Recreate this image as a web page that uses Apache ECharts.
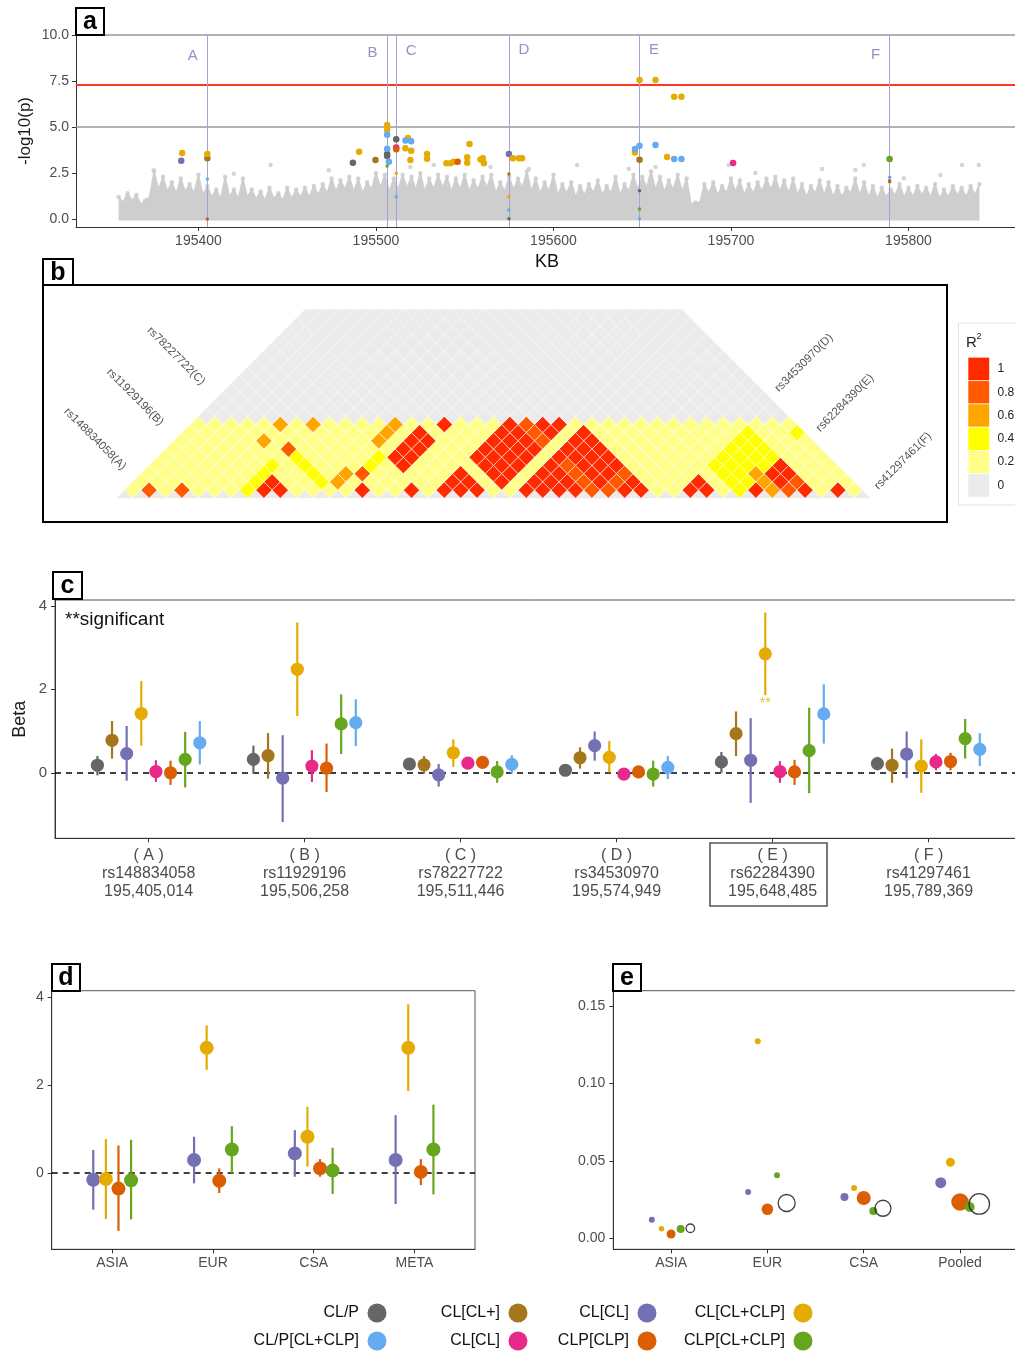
<!DOCTYPE html>
<html>
<head>
<meta charset="utf-8">
<script src="https://cdn.jsdelivr.net/npm/echarts@6/dist/echarts.min.js"></script>
<style>
html,body{margin:0;padding:0;background:#fff}
#chart{width:1015px;height:1355px}
</style>
</head>
<body>
<div id="chart"></div>
<script>
const FONT = '"Liberation Sans", Arial, Helvetica, sans-serif';
const TICK = '#4d4d4d';

// ---------- phenotype / model groups ----------
const groupNames = ['CL/P','CL[CL+]','CL[CL]','CL[CL+CLP]','CL[CL]','CLP[CLP]','CLP[CL+CLP]','CL/P[CL+CLP]'];
const groupColours = ['#666666','#a6761d','#7570b3','#e6ab02','#e7298a','#d95f02','#66a61e','#64abf0'];

// ---------- a: regional association ----------
const kbTicks = [195400,195500,195600,195700,195800];
const logpTicks = [0,2.5,5,7.5,10];
const suggestiveLine = 5;
const genomeWideLine = 7.3;
const logpCeiling = 10;

// spikes of the background SNP cloud (kb, -log10 p)
const cloudKb = [195355,195360,195365,195370,195375,195380,195385,195390,195395,195400,
  195405,195410,195415,195420,195425,195430,195435,195440,195445,195450,
  195455,195460,195465,195470,195475,195480,195485,195490,195495,195500,
  195505,195510,195515,195520,195525,195530,195535,195540,195545,195550,
  195555,195560,195565,195570,195575,195580,195585,195590,195595,195600,
  195605,195610,195615,195620,195625,195630,195635,195640,195645,195650,
  195655,195660,195665,195670,195675,195680,195685,195690,195695,195700,
  195705,195710,195715,195720,195725,195730,195735,195740,195745,195750,
  195755,195760,195765,195770,195775,195780,195785,195790,195795,195800,
  195805,195810,195815,195820,195825,195830,195835,195840];
const cloudTop = [1.2,1.4,1.3,1.0,2.6,2.3,2.0,2.2,1.9,2.4,
  1.8,1.6,2.3,1.6,2.2,1.6,1.5,1.7,1.4,1.7,
  1.6,1.7,1.8,1.9,2.2,2.1,2.3,2.2,2.0,2.5,
  2.4,2.2,2.4,2.3,2.5,2.2,2.4,2.3,2.2,2.4,
  2.1,2.3,2.4,2.0,2.3,2.2,2.6,2.2,2.0,2.4,
  1.9,2.0,1.8,1.9,2.1,1.8,2.3,1.9,2.4,2.3,
  2.6,2.3,2.1,2.4,2.2,0.9,1.9,2.0,1.8,2.2,
  2.1,1.9,2.0,2.2,2.3,2.1,2.2,1.9,1.8,2.1,
  2.0,1.8,1.7,2.2,2.0,1.8,1.7,1.6,1.9,1.7,
  1.8,1.7,1.9,1.6,1.8,1.7,1.8,1.9];
// dense level of the cloud between neighbouring spikes (midpoints of cloudKb)
const cloudValley = [0.9,1.0,0.8,1.2,1.6,1.5,1.4,1.5,1.4,1.3,
  1.2,1.1,1.2,1.1,1.2,1.1,1.0,1.1,1.0,1.1,
  1.2,1.2,1.3,1.4,1.5,1.6,1.5,1.4,1.6,1.7,
  1.5,1.6,1.7,1.6,1.5,1.6,1.7,1.5,1.6,1.5,
  1.6,1.7,1.4,1.5,1.6,1.7,1.5,1.4,1.5,1.3,
  1.4,1.2,1.3,1.4,1.3,1.4,1.3,1.5,1.6,1.7,
  1.6,1.5,1.6,1.5,0.8,0.9,1.4,1.3,1.4,1.5,
  1.3,1.4,1.5,1.6,1.5,1.4,1.3,1.2,1.4,1.3,
  1.2,1.2,1.4,1.3,1.2,1.1,1.2,1.3,1.2,1.2,
  1.3,1.2,1.1,1.2,1.3,1.2,1.3];
// isolated background SNPs above the cloud
const strayKb = [195374.8,195419.9,195440.6,195473.4,195519.4,195532.6,195564.5,195586.1,195613.3,195642.4,
  195657.5,195698.8,195713.8,195751.4,195770.1,195774.8,195797.4,195818.0,195830.2,195839.6];
const strayLogp = [2.65,2.46,2.93,2.65,2.83,2.93,2.83,2.72,2.93,2.72,
  2.83,2.93,2.50,2.72,2.66,2.93,2.21,2.39,2.93,2.93];

// highlighted SNPs per group: [kb, -log10 p, 1 = p below 1e-3]
const hitsCLP = [[195487.0,3.06,1],[195506.3,3.53,1],[195506.3,3.42,1],[195511.4,4.33,1],[195648.5,1.54,0],[195574.9,0.02,0]];
const hitsCLplus = [[195405.0,3.30,1],[195499.7,3.21,1],[195648.5,3.22,1],[195574.9,2.45,0],[195789.4,2.02,0]];
const hitsCLCL = [[195390.3,3.17,1],[195574.9,3.53,1]];
const hitsCLmix = [[195390.8,3.59,1],[195405.0,3.53,1],[195490.5,3.66,1],[195506.3,5.11,1],[195506.3,4.84,1],
  [195511.4,2.48,0],[195518.0,4.40,1],[195516.6,3.84,1],[195519.8,3.71,1],[195519.4,3.21,1],
  [195528.8,3.53,1],[195528.8,3.28,1],[195539.7,3.03,1],[195542.0,3.03,1],[195543.8,3.11,1],
  [195551.4,3.35,1],[195551.4,3.06,1],[195552.7,4.08,1],[195558.9,3.24,1],[195560.2,3.30,1],
  [195560.8,3.03,1],[195577.1,3.30,1],[195580.5,3.30,1],[195582.3,3.30,1],[195574.9,1.21,0],
  [195648.5,7.55,1],[195657.5,7.55,1],[195645.9,3.62,1],[195664.0,3.37,1],[195668.0,6.65,1],[195672.1,6.65,1]];
const hitsCLCL2 = [[195511.4,3.88,1],[195701.2,3.04,1]];
const hitsCLPCLP = [[195511.4,3.79,1],[195546.0,3.11,1],[195405.0,0.0,0],[195789.4,2.08,0]];
const hitsCLPmix = [[195506.3,2.88,0],[195789.4,3.26,1],[195648.5,0.54,0]];
const hitsCLPall = [[195405.0,2.17,0],[195506.3,4.58,1],[195506.3,3.82,1],[195507.3,3.11,1],[195511.4,1.21,0],
  [195516.6,4.26,1],[195519.8,4.22,1],[195574.9,0.49,0],[195648.5,3.98,1],[195645.9,3.80,1],
  [195657.5,4.02,1],[195668.0,3.26,1],[195672.1,3.26,1],[195789.4,2.27,0],[195648.5,0.02,0]];
const hitsByGroup = [hitsCLP,hitsCLplus,hitsCLCL,hitsCLmix,hitsCLCL2,hitsCLPCLP,hitsCLPmix,hitsCLPall];

// lead SNPs
const snpCats = ['A','B','C','D','E','F'];
const snpIds = ['rs148834058','rs11929196','rs78227722','rs34530970','rs62284390','rs41297461'];
const snpPosLabels = ['195,405,014','195,506,258','195,511,446','195,574,949','195,648,485','195,789,369'];
const snpKb = [195405.014,195506.258,195511.446,195574.949,195648.485,195789.369];
const snpTagLogp = [8.86,9.03,9.13,9.18,9.18,8.91];
const snpTagSide = ['left','left','right','right','right','left'];

// ---------- b: pairwise LD (r^2 bin code per cell, one string per diagonal) ----------
const ldBins = [0,0.2,0.4,0.6,0.8,1];
const ldColours = ['#ebebeb','#ffff88','#ffff00','#ffa500','#ff5a00','#ff2a00'];
const ldRows = [
  '14141 11255 11115 11515 55115 55544 55115 51253 45151',
  '11111 11251 12311 11115 51515 55454 51115 12235 4111',
  '11111 11211 21341 11115 15515 54554 11111 22355 111',
  '11111 11212 11121 51111 55515 45551 11112 22251 11',
  '11111 11121 11125 51115 55515 55511 11112 22211 1',
  '11111 11411 11115 51115 55515 55111 11112 22111',
  '11111 31111 11315 51115 55415 51111 11112 2111',
  '11111 11111 11315 11115 54515 11111 11112 112',
  '11111 31311 11311 51115 45511 11111 11111 11',
  '000000 000000 000000 000000 000000 000000',
  '000000 000000 000000 000000 000000 00000',
  '000000 000000 000000 000000 000000 0000',
  '000000 000000 000000 000000 000000 000',
  '000000 000000 000000 000000 000000 00',
  '000000 000000 000000 000000 000000 0',
  '000000 000000 000000 000000 000000',
  '000000 000000 000000 000000 00000',
  '000000 000000 000000 000000 0000',
  '000000 000000 000000 000000 000',
  '000000 000000 000000 000000 00',
  '000000 000000 000000 000000 0',
  '000000 000000 000000 000000'
].map(r => r.replace(/ /g,''));
const ldLegendLabels = ['1','0.8','0.6','0.4','0.2','0'];

// ---------- c: effect sizes at lead SNPs (rows = groups, cols = A..F) ----------
const betaC = [
  [0.18,0.32,0.21,0.06,0.26,0.22],
  [0.78,0.41,0.19,0.36,0.94,0.18],
  [0.46,-0.13,-0.05,0.65,0.30,0.45],
  [1.42,2.48,0.48,0.37,2.85,0.16],
  [0.03,0.16,0.23,-0.03,0.03,0.26],
  [0.00,0.11,0.25,0.02,0.02,0.27],
  [0.32,1.17,0.02,-0.03,0.53,0.82],
  [0.72,1.20,0.20,0.13,1.41,0.56]];
const lowC = [
  [-0.06,-0.02,0.15,0.02,0.00,0.06],
  [0.34,-0.14,-0.02,0.10,0.40,-0.24],
  [-0.19,-1.18,-0.33,0.29,-0.72,-0.13],
  [0.65,1.36,0.14,0.01,1.86,-0.48],
  [-0.22,-0.22,0.17,-0.08,-0.24,0.06],
  [-0.29,-0.46,0.19,-0.13,-0.29,0.06],
  [-0.35,0.45,-0.24,-0.33,-0.49,0.34],
  [0.20,0.64,-0.02,-0.15,0.70,0.16]];
const highC = [
  [0.40,0.65,0.27,0.10,0.50,0.38],
  [1.24,0.95,0.40,0.61,1.47,0.58],
  [1.12,0.90,0.21,0.99,1.31,0.99],
  [2.20,3.60,0.80,0.76,3.84,0.80],
  [0.30,0.54,0.29,0.02,0.28,0.45],
  [0.29,0.70,0.31,0.14,0.31,0.48],
  [0.98,1.88,0.28,0.29,1.56,1.29],
  [1.24,1.76,0.42,0.40,2.12,0.95]];
const sigGroup = [3];
const sigSnp = [4];
const betaTicks = [0,2,4];

// ---------- d: lead SNP E by population ----------
const popCats = ['ASIA','EUR','CSA','META'];
const popGroups = [2,3,5,6];
const betaD = [
  [-0.15,0.30,0.45,0.30],
  [-0.13,2.85,0.83,2.85],
  [-0.35,-0.17,0.11,0.03],
  [-0.16,0.54,0.06,0.54]];
const lowD = [
  [-0.83,-0.23,-0.08,-0.70],
  [-1.04,2.35,0.15,1.87],
  [-1.31,-0.45,-0.08,-0.27],
  [-1.05,0.00,-0.47,-0.48]];
const highD = [
  [0.53,0.83,0.98,1.32],
  [0.78,3.36,1.51,3.84],
  [0.63,0.11,0.32,0.32],
  [0.76,1.07,0.58,1.56]];

// ---------- e: per-population estimates (last row = all subtypes, open circle) ----------
const popCatsE = ['ASIA','EUR','CSA','Pooled'];
const valueE = [
  [0.0120,0.0299,0.0267,0.0359],
  [0.0062,0.1272,0.0325,0.0491],
  [0.0028,0.0187,0.0260,0.0235],
  [0.0060,0.0407,0.0176,0.0202],
  [0.0065,0.0228,0.0194,0.0222]];
const weightE = [
  [6,6,8,11],
  [5.5,6,6,9],
  [9,11.5,14,17.5],
  [8,6,8,10],
  [8.5,17,16,20.5]];
const eTicks = [0,0.05,0.10,0.15];

// ---------- helpers ----------
function axisBase(gridIndex, min, max, ticks, fmt, fontSize, margin) {
  return {
    type:'value', gridIndex, min, max,
    axisLine:{show:true, onZero:false, lineStyle:{color:'#333', width:1}},
    axisTick:{show:true, customValues:ticks, length:4, lineStyle:{color:'#333', width:1}},
    axisLabel:{customValues:ticks, formatter:fmt, color:TICK, fontSize, fontFamily:FONT, margin},
    splitLine:{show:false}, nameMoveOverlap:false
  };
}
function forestItem(r, lw) {
  return function (params, api) {
    const x = api.value(0), y = api.value(1), lo = api.value(2), hi = api.value(3);
    const p = api.coord([x, y]), a = api.coord([x, lo]), b = api.coord([x, hi]);
    const col = api.visual('color');
    return {type:'group', children:[
      {type:'line', shape:{x1:a[0], y1:a[1], x2:b[0], y2:b[1]}, style:{stroke:col, lineWidth:lw}},
      {type:'circle', shape:{cx:p[0], cy:p[1], r}, style:{fill:col}}
    ]};
  };
}

const series = [];

// a: background cloud, spikes alternating with the dense level between them
const cloudOutline = [];
cloudKb.forEach((k, i) => {
  cloudOutline.push([k, cloudTop[i]]);
  if (i < cloudValley.length) cloudOutline.push([(k + cloudKb[i + 1]) / 2, cloudValley[i]]);
});
series.push({
  type:'line', xAxisIndex:0, yAxisIndex:0, silent:true, z:1,
  data: cloudOutline,
  symbol:'none', lineStyle:{color:'#cecece', width:1.5},
  areaStyle:{color:'#cecece', opacity:1, origin:-0.08}
});
series.push({
  type:'scatter', xAxisIndex:0, yAxisIndex:0, silent:true, z:1,
  data: cloudKb.map((k,i)=>[k, cloudTop[i]]).concat(strayKb.map((k,i)=>[k, strayLogp[i]])),
  symbolSize:4.5, itemStyle:{color:'#cacaca'}
});
// a: threshold lines, lead-SNP markers and tags
series.push({
  type:'scatter', xAxisIndex:0, yAxisIndex:0, silent:true, z:2,
  data: snpKb.map((k,i)=>({value:[k, snpTagLogp[i]], label:{position:snpTagSide[i]}})),
  symbolSize:1, itemStyle:{color:'rgba(0,0,0,0)'},
  label:{show:true, distance:9, formatter:p=>snpCats[p.dataIndex], color:'#7b76b8', fontSize:15, fontFamily:FONT},
  markLine:{silent:true, symbol:'none', label:{show:false}, animation:false,
    data:[
      {yAxis:logpCeiling, lineStyle:{color:'#999', width:1.6, type:'solid'}},
      {yAxis:suggestiveLine, lineStyle:{color:'#999', width:1.6, type:'solid'}},
      {yAxis:genomeWideLine, lineStyle:{color:'#ff3426', width:2, type:'solid'}}
    ].concat(snpKb.map(k=>({xAxis:k, lineStyle:{color:'#a3a3d4', width:1, type:'solid'}})))
  }
});
hitsByGroup.forEach((pts, gi) => {
  series.push({
    type:'scatter', name:groupNames[gi], xAxisIndex:0, yAxisIndex:0, z:5,
    data:pts, symbolSize:v=>v[2] ? 6.5 : 3.5,
    itemStyle:{color:groupColours[gi], opacity:1}
  });
});

// b: LD triangle
const ldCells = [];
ldRows.forEach((row, k) => {
  for (let m = 0; m < row.length; m++) ldCells.push([2*m + 1 + k, k, +row[m]]);
});
const nBase = ldRows[0].length, nDiag = ldRows.length;
series.push({
  type:'custom', xAxisIndex:1, yAxisIndex:1, silent:true, z:1,
  data:[[0]],
  renderItem:(params, api) => {
    const pts = [[-1,-1],[2*nBase+1,-1],[2*nBase-nDiag,nDiag],[nDiag,nDiag]].map(q=>api.coord(q));
    return {type:'polygon', shape:{points:pts}, style:{fill:ldColours[0]}};
  }
});
series.push({
  type:'custom', xAxisIndex:1, yAxisIndex:1, silent:true, z:2,
  data:ldCells,
  renderItem:(params, api) => {
    const u = api.value(0), v = api.value(1), c = api.value(2);
    const pts = [[u-1,v],[u,v+1],[u+1,v],[u,v-1]].map(q=>api.coord(q));
    return {type:'polygon', shape:{points:pts},
      style:{fill:ldColours[c], stroke: c ? 'rgba(255,255,255,0.8)' : 'rgba(255,255,255,0.55)', lineWidth:0.7}};
  }
});

// c: forest plot per lead SNP
const dodgeC = 0.75 / 8;
groupNames.forEach((g, gi) => {
  series.push({
    type:'custom', name:g, xAxisIndex:2, yAxisIndex:2, z:5,
    data: snpCats.map((c, ci) => [ci + 1 + (gi - 3.5)*dodgeC, betaC[gi][ci], lowC[gi][ci], highC[gi][ci]]),
    itemStyle:{color:groupColours[gi]},
    renderItem: forestItem(6.6, 2.2)
  });
});
series.push({
  type:'scatter', xAxisIndex:2, yAxisIndex:2, silent:true, z:8,
  data: sigGroup.map((g,i)=>[sigSnp[i] + 1 + (g - 3.5)*dodgeC, lowC[g][sigSnp[i]] - 0.2]),
  symbolSize:1, itemStyle:{color:'rgba(0,0,0,0)'},
  label:{show:true, position:'inside', formatter:'**', color:groupColours[3], fontSize:14, fontFamily:FONT},
  markLine:{silent:true, symbol:'none', label:{show:false}, animation:false,
    data:[{yAxis:0, lineStyle:{color:'#000', width:1.5, type:[6,5]}}]}
});

// d: forest plot by population
const dodgeD = 0.5 / 4;
popGroups.forEach((g, i) => {
  series.push({
    type:'custom', name:groupNames[g], xAxisIndex:3, yAxisIndex:3, z:5,
    data: popCats.map((c, ci) => [ci + 1 + (i - 1.5)*dodgeD, betaD[i][ci], lowD[i][ci], highD[i][ci]]),
    itemStyle:{color:groupColours[g]},
    renderItem: forestItem(7, 2.2)
  });
});
series.push({
  type:'scatter', xAxisIndex:3, yAxisIndex:3, silent:true, z:8, data:[],
  markLine:{silent:true, symbol:'none', label:{show:false}, animation:false,
    data:[{yAxis:0, lineStyle:{color:'#000', width:1.5, type:[6,5]}}]}
});

// e: bubble estimates
const dodgeE = 0.1;
const eColours = popGroups.map(g=>groupColours[g]).concat(['none']);
valueE.forEach((vals, i) => {
  const open = i === valueE.length - 1;
  series.push({
    type:'scatter', xAxisIndex:4, yAxisIndex:4, z:5 + i,
    data: vals.map((v, ci) => [ci + 1 + (i - 2)*dodgeE, v, weightE[i][ci]]),
    symbolSize: v => v[2],
    itemStyle: open ? {color:'rgba(255,255,255,0)', borderColor:'#111', borderWidth:1.3}
                    : {color:eColours[i], opacity:1}
  });
});

// ---------- axes ----------
const xAxes = [
  axisBase(0, 195331, 195870, kbTicks, v=>String(v), 14, 7),
  {type:'value', gridIndex:1, min:-2, max:92, show:false},
  axisBase(2, 0.4, 6.6, [1,2,3,4,5,6],
    v => '( ' + snpCats[v-1] + ' )\n' + snpIds[v-1] + '\n' + snpPosLabels[v-1], 16, 8),
  axisBase(3, 0.4, 4.6, [1,2,3,4], v => popCats[v-1], 14, 7),
  axisBase(4, 0.4, 4.6, [1,2,3,4], v => popCatsE[v-1], 14, 7)
];
xAxes[2].axisLabel.lineHeight = 18;

const yAxes = [
  Object.assign(axisBase(0, -0.435, 10, logpTicks, v=>v.toFixed(1), 14, 7), {
    name:'-log10(p)', nameLocation:'middle', nameGap:42, nameRotate:90,
    nameTextStyle:{fontSize:17, color:'#1a1a1a', fontFamily:FONT}
  }),
  {type:'value', gridIndex:1, min:-2, max:23, show:false},
  Object.assign(axisBase(2, -1.57, 4.14, betaTicks, v=>String(v), 15, 8), {
    name:'Beta', nameLocation:'middle', nameGap:26, nameRotate:90,
    nameTextStyle:{fontSize:18, color:'#1a1a1a', fontFamily:FONT}
  }),
  axisBase(3, -1.73, 4.15, betaTicks, v=>String(v), 14, 8),
  axisBase(4, -0.0071, 0.1599, eTicks, v=>v.toFixed(2), 14, 8)
];

// ---------- annotations ----------
const graphic = [];
function panelTag(letter, x, y, w, h) {
  graphic.push({type:'rect', z:100, shape:{x, y, width:w, height:h}, style:{fill:'#fff', stroke:'#000', lineWidth:2}});
  graphic.push({type:'text', z:101, style:{text:letter, x:x + w/2, y:y + h/2 + 1, align:'center', verticalAlign:'middle',
    font:'bold 25px ' + FONT, fill:'#000'}});
}
panelTag('a', 76, 8, 28, 27);
panelTag('c', 53, 572, 29, 27);
panelTag('d', 52, 964, 28, 27);
panelTag('e', 613, 964, 28, 27);
// b frame
graphic.push({type:'rect', z:90, shape:{x:43, y:285, width:904, height:237}, style:{fill:'none', stroke:'#000', lineWidth:2}});
panelTag('b', 43, 259, 30, 26);

graphic.push({type:'text', z:50, style:{text:'KB', x:547, y:262, align:'center', verticalAlign:'middle', font:'18px ' + FONT, fill:'#111'}});

// LD SNP labels
const ldTagText = snpIds.map((id,i)=>id + '(' + snpCats[i] + ')');
const ldTagXY = [[95,439],[135,397],[176,356],[804,363],[845,403],[903,461]];
ldTagText.forEach((t, i) => {
  graphic.push({type:'text', z:50, x:ldTagXY[i][0], y:ldTagXY[i][1], rotation: i < 3 ? -Math.PI/4 : Math.PI/4,
    style:{text:t, x:0, y:0, align:'center', verticalAlign:'middle', font:'11.5px ' + FONT, fill:'#555'}});
});
// LD colour key
graphic.push({type:'rect', z:50, shape:{x:958.5, y:323, width:80, height:182}, style:{fill:'#fff', stroke:'#e2e2e2', lineWidth:1}});
graphic.push({type:'text', z:51, style:{text:'R', x:966, y:343, verticalAlign:'middle', font:'15px ' + FONT, fill:'#222'}});
graphic.push({type:'text', z:51, style:{text:'2', x:976.5, y:337, verticalAlign:'middle', font:'9px ' + FONT, fill:'#222'}});
ldLegendLabels.forEach((lab, i) => {
  const col = ldColours[ldColours.length - 1 - i];
  graphic.push({type:'rect', z:51, shape:{x:968, y:357.3 + i*23.3, width:21.5, height:23.3}, style:{fill:col, stroke:'#fff', lineWidth:0.6}});
  graphic.push({type:'text', z:51, style:{text:lab, x:997.5, y:357.3 + i*23.3 + 11.6, verticalAlign:'middle', font:'12px ' + FONT, fill:'#222'}});
});

// c annotations
graphic.push({type:'text', z:50, style:{text:'**significant', x:65, y:620, verticalAlign:'middle', font:'19px ' + FONT, fill:'#111'}});
graphic.push({type:'rect', z:50, shape:{x:710, y:843, width:117, height:63}, style:{fill:'none', stroke:'#555', lineWidth:1.6}});

// bottom legend
const legendOrder = [[0,1,2,3],[7,4,5,6]];
const legendDotX = [377,518,647,803];
const legendRowY = [1313,1341];
legendOrder.forEach((row, r) => row.forEach((g, c) => {
  graphic.push({type:'text', z:50, style:{text:groupNames[g], x:legendDotX[c] - 18, y:legendRowY[r], align:'right', verticalAlign:'middle',
    font:'16px ' + FONT, fill:'#111'}});
  graphic.push({type:'circle', z:50, shape:{cx:legendDotX[c], cy:legendRowY[r], r:9.5}, style:{fill:groupColours[g]}});
}));

const option = {
  animation:false,
  backgroundColor:'#fff',
  textStyle:{fontFamily:FONT},
  grid:[
    {left:76, top:35, width:956.7, height:192, outerBoundsMode:'none', containLabel:false},
    {left:108.1, top:301.4, width:770.8, height:205, outerBoundsMode:'none', containLabel:false},
    {left:55, top:600, width:967.2, height:238.3, show:true, borderColor:'#555', borderWidth:1, outerBoundsMode:'none', containLabel:false},
    {left:51.7, top:990.7, width:423.3, height:258.6, show:true, borderColor:'#555', borderWidth:1, outerBoundsMode:'none', containLabel:false},
    {left:613.3, top:990.7, width:404.5, height:258.6, show:true, borderColor:'#555', borderWidth:1, outerBoundsMode:'none', containLabel:false}
  ],
  xAxis:xAxes,
  yAxis:yAxes,
  series,
  graphic
};

const chart = echarts.init(document.getElementById('chart'), null, {renderer:'canvas', width:1015, height:1355});
chart.setOption(option);
</script>
</body>
</html>
